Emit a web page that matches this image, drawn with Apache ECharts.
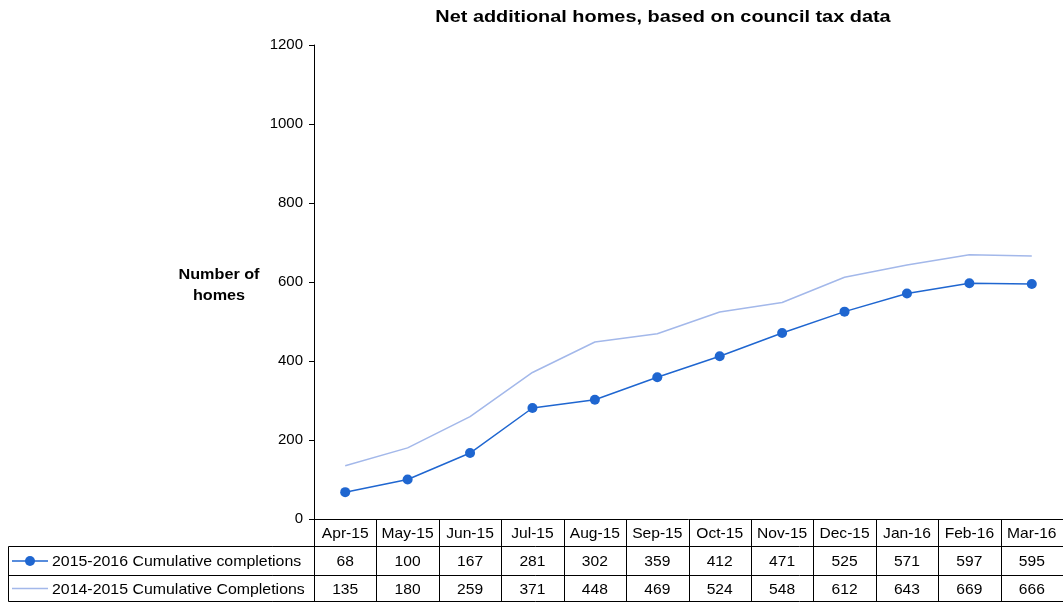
<!DOCTYPE html>
<html>
<head>
<meta charset="utf-8">
<script src="https://cdn.jsdelivr.net/npm/echarts@6/dist/echarts.min.js"></script>
<style>
  html, body { margin: 0; padding: 0; background: #fff; }
  #chart { width: 1063px; height: 602px; }
</style>
</head>
<body>
<div id="chart"></div>
<script>
const months = ['Apr-15', 'May-15', 'Jun-15', 'Jul-15', 'Aug-15', 'Sep-15', 'Oct-15', 'Nov-15', 'Dec-15', 'Jan-16', 'Feb-16', 'Mar-16'];
const completions1516 = [68, 100, 167, 281, 302, 359, 412, 471, 525, 571, 597, 595];
const completions1415 = [135, 180, 259, 371, 448, 469, 524, 548, 612, 643, 669, 666];
const seriesNames = ['2015-2016 Cumulative completions', '2014-2015 Cumulative Completions'];

const FONT = '"Liberation Sans", Arial, sans-serif';
const DARK = '#1f66d0';
const LIGHT = '#a3b8ea';

const chart = echarts.init(document.getElementById('chart'));

chart.setOption({
    backgroundColor: '#fff',
    animation: false,
    grid: { left: 314, right: 0, top: 45, bottom: 83 },
    xAxis: {
        type: 'category',
        data: months,
        boundaryGap: true,
        axisLine: { lineStyle: { color: '#000', width: 1 } },
        axisTick: { show: false },
        axisLabel: { show: false },
        splitLine: { show: false }
    },
    yAxis: {
        type: 'value',
        min: 0,
        max: 1200,
        interval: 200,
        axisLine: { show: true, lineStyle: { color: '#000', width: 1 } },
        axisTick: { show: true, length: 5, lineStyle: { color: '#000' } },
        axisLabel: { fontFamily: FONT, fontSize: 15, color: '#000', margin: 11, formatter: v => String(v) },
        splitLine: { show: false }
    },
    series: [
        {
            name: seriesNames[1],
            type: 'line',
            data: completions1415,
            symbol: 'none',
            lineStyle: { color: LIGHT, width: 1.5 },
            itemStyle: { color: LIGHT }
        },
        {
            name: seriesNames[0],
            type: 'line',
            data: completions1516,
            symbol: 'circle',
            symbolSize: 10,
            lineStyle: { color: DARK, width: 1.5 },
            itemStyle: { color: DARK }
        }
    ]
});

// data table under the plot, aligned to the category axis
const x0 = chart.convertToPixel({ xAxisIndex: 0 }, 0);
const x1 = chart.convertToPixel({ xAxisIndex: 0 }, 1);
const cellW = x1 - x0;
const plotLeft = x0 - cellW / 2;
const plotRight = plotLeft + cellW * months.length;
const axisY = chart.convertToPixel({ yAxisIndex: 0 }, 0);
const rowY = [axisY, 546.5, 575.5, 601.5];
const tableLeft = 8.5;

const g = [];
const lineStyle = { stroke: '#000', lineWidth: 1 };
const cellText = (txt, x, y) => ({
    type: 'text', x: x, y: y, scaleX: 1.04,
    style: { text: txt, fontFamily: FONT, fontSize: 15, fill: '#000', align: 'center', verticalAlign: 'middle' }
});

// title
g.push({
    type: 'text', x: 663, y: 17, scaleX: 1.17,
    style: { text: 'Net additional homes, based on council tax data', fontFamily: FONT, fontSize: 17, fontWeight: 'bold', fill: '#000', align: 'center', verticalAlign: 'middle' }
});

// horizontal lines
for (let r = 1; r <= 3; r++) {
    g.push({ type: 'line', shape: { x1: tableLeft, y1: rowY[r], x2: plotRight, y2: rowY[r] }, style: lineStyle });
}
// left border of legend column
g.push({ type: 'line', shape: { x1: tableLeft, y1: rowY[1], x2: tableLeft, y2: rowY[3] }, style: lineStyle });

// vertical lines between category cells
for (let i = 0; i <= months.length; i++) {
    const vx = Math.round(plotLeft + cellW * i) + 0.5;
    g.push({ type: 'line', shape: { x1: vx, y1: rowY[0], x2: vx, y2: rowY[3] }, style: lineStyle });
}

months.forEach((m, i) => {
    const cx = chart.convertToPixel({ xAxisIndex: 0 }, i);
    g.push(cellText(m, cx, (rowY[0] + rowY[1]) / 2 + 1));
    g.push(cellText(String(completions1516[i]), cx, (rowY[1] + rowY[2]) / 2 + 1));
    g.push(cellText(String(completions1415[i]), cx, (rowY[2] + rowY[3]) / 2 + 1));
});

// legend keys in table
const key1Y = (rowY[1] + rowY[2]) / 2;
const key2Y = (rowY[2] + rowY[3]) / 2;
g.push({ type: 'line', shape: { x1: 12, y1: key1Y, x2: 48, y2: key1Y }, style: { stroke: DARK, lineWidth: 1.5 } });
g.push({ type: 'circle', shape: { cx: 30, cy: key1Y, r: 5 }, style: { fill: DARK } });
g.push({ type: 'line', shape: { x1: 12, y1: key2Y, x2: 48, y2: key2Y }, style: { stroke: LIGHT, lineWidth: 1.5 } });
[key1Y, key2Y].forEach((ky, k) => {
    g.push({
        type: 'text', x: 52, y: ky + 1, scaleX: 1.06,
        style: { text: seriesNames[k], fontFamily: FONT, fontSize: 15, fill: '#000', align: 'left', verticalAlign: 'middle' }
    });
});

// y axis title
g.push({
    type: 'text', x: 219, y: 285, scaleX: 1.08,
    style: { text: 'Number of\nhomes', fontFamily: FONT, fontSize: 15, fontWeight: 'bold', fill: '#000', align: 'center', verticalAlign: 'middle', lineHeight: 21 }
});

chart.setOption({ graphic: g });
</script>
</body>
</html>
